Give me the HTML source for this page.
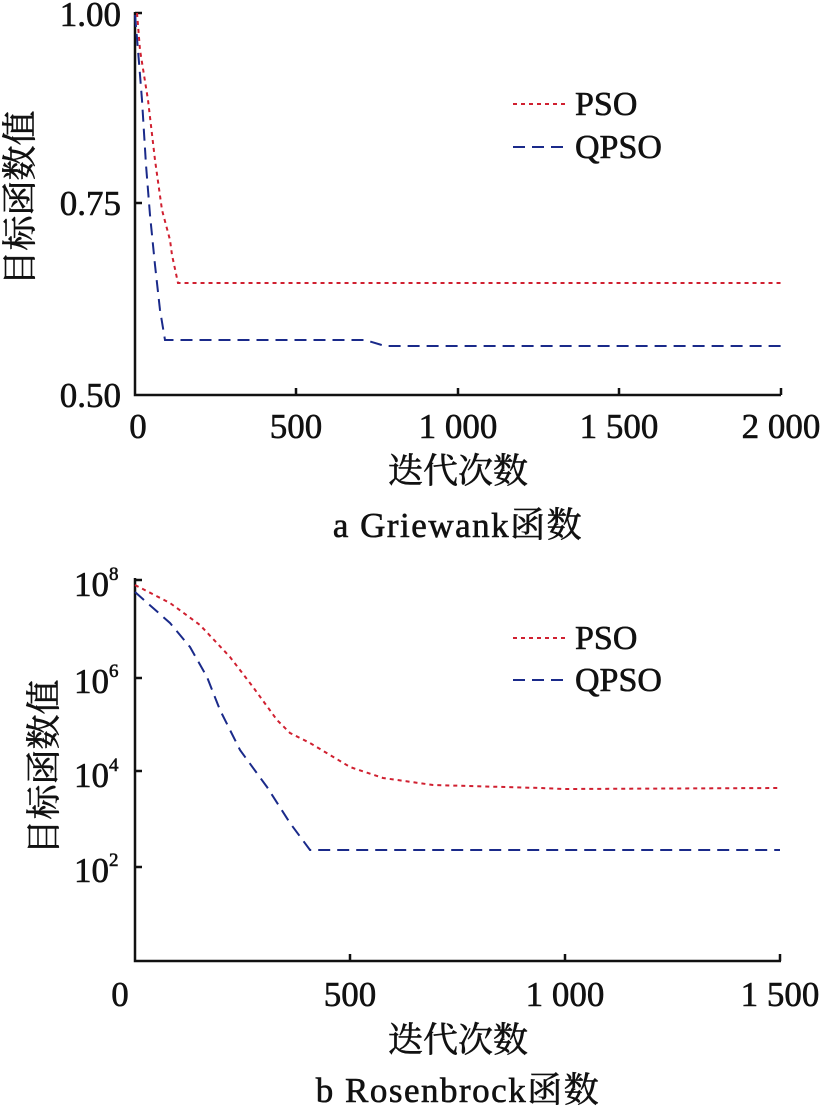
<!DOCTYPE html>
<html><head><meta charset="utf-8"><style>body{margin:0;background:#fff}svg{display:block}</style></head><body>
<svg width="825" height="1109" xmlns="http://www.w3.org/2000/svg" font-family="Liberation Serif, Noto Serif CJK SC, serif" font-size="35" fill="#111">
<g stroke="#111" stroke-width="2.5" fill="none">
<path d="M135,12 V395 H781"/>
<path d="M135,13 H142 M135,203 H142 M296,395 V388 M458,395 V388 M619,395 V388 M781,395 V388"/>
<path d="M135,578 V961 H781"/>
<path d="M135,580 H142 M135,678 H142 M135,771 H142 M135,867 H142 M350,961 V954 M565,961 V954 M780,961 V954"/>
</g>
<g fill="none" stroke-width="2">
<polyline stroke="#d02030" stroke-dasharray="4,4" points="137,13 140,50 148,100 155,160 162,210 170,240 172,255 178,283 781,283"/>
<polyline stroke="#1a2a8a" stroke-dasharray="12,7" points="135,15 138,50 142,100 146,165 150,215 155,265 160,310 165,340 365,340 385,346 781,346"/>
<line x1="513" y1="104" x2="568" y2="104" stroke="#d02030" stroke-dasharray="4,4"/>
<line x1="513" y1="147" x2="568" y2="147" stroke="#1a2a8a" stroke-dasharray="12,7"/>
<polyline stroke="#d02030" stroke-dasharray="4,4" points="135,585 170,603 200,625 230,657 253,687 277,720 290,733 310,743 350,767 383,778 433,785 540,788 565,789 780,788"/>
<polyline stroke="#1a2a8a" stroke-dasharray="12,7" points="135,592 170,623 190,647 207,677 220,710 240,750 267,787 290,823 310,850 780,850"/>
<line x1="513" y1="638" x2="568" y2="638" stroke="#d02030" stroke-dasharray="4,4"/>
<line x1="513" y1="680" x2="568" y2="680" stroke="#1a2a8a" stroke-dasharray="12,7"/>
</g>
<g stroke="#111" stroke-width="0.6">
<g font-size="34">
<text x="575" y="115">PSO</text><text x="575" y="158">QPSO</text>
<text x="575" y="649">PSO</text><text x="575" y="691">QPSO</text>
</g>
<g text-anchor="end">
<text x="121" y="26">1.00</text><text x="121" y="215">0.75</text><text x="121" y="407">0.50</text>
</g>
<g text-anchor="middle">
<text x="138" y="438">0</text><text x="296" y="438">500</text><text x="458" y="438">1 000</text><text x="619" y="438">1 500</text><text x="781" y="438">2 000</text>
<text x="458" y="483">迭代次数</text>
<text x="458" y="537" letter-spacing="1.5">a  Griewank函数</text>
<text x="120" y="1006">0</text><text x="350" y="1006">500</text><text x="565" y="1006">1 000</text><text x="780" y="1006">1 500</text>
<text x="458" y="1052">迭代次数</text>
<text x="458" y="1102" letter-spacing="1.5">b  Rosenbrock函数</text>
</g>
<g>
<text x="74" y="596">10<tspan font-size="19" dy="-16">8</tspan></text>
<text x="74" y="693">10<tspan font-size="19" dy="-16">6</tspan></text>
<text x="74" y="787">10<tspan font-size="19" dy="-16">4</tspan></text>
<text x="74" y="882">10<tspan font-size="19" dy="-16">2</tspan></text>
</g>
<text transform="translate(32,198) rotate(-90)" text-anchor="middle">目标函数值</text>
<text transform="translate(56,767) rotate(-90)" text-anchor="middle">目标函数值</text>
</g>
</svg>
</body></html>
